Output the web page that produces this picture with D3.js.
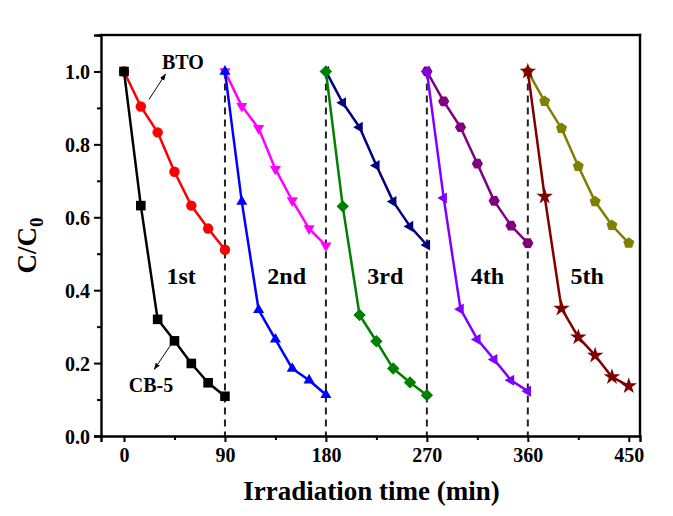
<!DOCTYPE html>
<html>
<head>
<meta charset="utf-8">
<script src="https://cdn.jsdelivr.net/npm/d3@7"></script>
<style>
  html, body { margin: 0; padding: 0; background: #ffffff; overflow: hidden; }
  svg { display: block; }
  svg text { font-family: "Liberation Serif", "Times New Roman", serif; font-weight: bold; }
</style>
</head>
<body>
<div id="chart"></div>
<script>
// Photocatalytic cycling: C/C0 versus irradiation time, five 90-min runs
const runOffsets = [0, 90, 180, 270, 360];
const stepTimes = [0, 15, 30, 45, 60, 75, 90];
const runLabels = ["1st", "2nd", "3rd", "4th", "5th"];

// BTO (slow) curves for each run
const btoRun1 = [1.0, 0.904, 0.833, 0.725, 0.632, 0.569, 0.511];
const btoRun2 = [1.0, 0.905, 0.844, 0.732, 0.646, 0.569, 0.522];
const btoRun3 = [1.0, 0.914, 0.847, 0.742, 0.643, 0.575, 0.524];
const btoRun4 = [1.0, 0.918, 0.847, 0.747, 0.645, 0.577, 0.529];
const btoRun5 = [1.0, 0.918, 0.844, 0.740, 0.643, 0.578, 0.529];

// CB-5 (fast) curves for each run
const cbRun1 = [1.0, 0.632, 0.320, 0.261, 0.199, 0.146, 0.109];
const cbRun2 = [1.0, 0.643, 0.346, 0.265, 0.185, 0.153, 0.113];
const cbRun3 = [1.0, 0.630, 0.332, 0.260, 0.185, 0.147, 0.112];
const cbRun4 = [1.0, 0.653, 0.348, 0.265, 0.210, 0.153, 0.123];
const cbRun5 = [1.0, 0.657, 0.350, 0.271, 0.221, 0.162, 0.137];

const xTicks = [0, 90, 180, 270, 360, 450];
const yTicks = [0.0, 0.2, 0.4, 0.6, 0.8, 1.0];

const seriesList = [
  { values: btoRun1, run: 0, color: "#ff0000", symbol: "circle" },
  { values: cbRun1,  run: 0, color: "#000000", symbol: "square" },
  { values: btoRun2, run: 1, color: "#ff00ff", symbol: "tridown" },
  { values: cbRun2,  run: 1, color: "#0000ff", symbol: "triup" },
  { values: btoRun3, run: 2, color: "#000080", symbol: "trileft" },
  { values: cbRun3,  run: 2, color: "#008000", symbol: "diamond" },
  { values: btoRun4, run: 3, color: "#800080", symbol: "hexagon" },
  { values: cbRun4,  run: 3, color: "#8000ff", symbol: "trileft" },
  { values: btoRun5, run: 4, color: "#808000", symbol: "pentagon" },
  { values: cbRun5,  run: 4, color: "#800000", symbol: "star" }
];

const W = 673, H = 516;
const margin = { left: 101, right: 33, top: 35, bottom: 80 };

const svg = d3.select("#chart").append("svg")
  .attr("width", W).attr("height", H)
  .attr("viewBox", `0 0 ${W} ${H}`);

const x = d3.scaleLinear().domain([-20.5, 460]).range([margin.left, W - margin.right]);
const y = d3.scaleLinear().domain([0, 1.1]).range([H - margin.bottom, margin.top]);

// marker shape generators
function polygon(n, r, rot) {
  const pts = [];
  for (let i = 0; i < n; i++) {
    const a = rot + i * 2 * Math.PI / n;
    pts.push([r * Math.cos(a), r * Math.sin(a)]);
  }
  return "M" + pts.map(p => p.join(",")).join("L") + "Z";
}
function markerPath(sym) {
  const r = 5.6;
  switch (sym) {
    case "circle":   return d3.symbol(d3.symbolCircle, Math.PI * 5.2 * 5.2)();
    case "square":   return "M-4.8,-4.8H4.8V4.8H-4.8Z";
    case "triup":    return polygon(3, r + 0.8, -Math.PI / 2);
    case "tridown":  return polygon(3, r + 0.8, Math.PI / 2);
    case "trileft":  return polygon(3, r + 0.8, Math.PI);
    case "triright": return polygon(3, r + 0.8, 0);
    case "diamond":  return polygon(4, r + 0.6, -Math.PI / 2);
    case "hexagon":  return polygon(6, r, 0);
    case "pentagon": return polygon(5, r + 0.2, -Math.PI / 2);
    case "star":     return d3.symbol(d3.symbolStar, 85)();
  }
}

const [x0, x1] = x.range();
const [yb, yt] = y.range();

// box edges drawn as thin filled bands (top and right)
const frameBands = [
  { x: x0 - 1.2, y: yt - 1.2, w: x1 - x0 + 2.4, h: 2.4 },
  { x: x1 - 1.2, y: yt - 1.2, w: 2.4, h: yb - yt + 2.4 }
];
svg.append("g").attr("class", "frame")
  .selectAll("rect").data(frameBands)
  .join("rect")
  .attr("x", d => d.x).attr("y", d => d.y)
  .attr("width", d => d.w).attr("height", d => d.h)
  .attr("fill", "#000");

const plot = svg.append("g");

// dashed separators between runs
plot.selectAll("line.sep").data(runOffsets.slice(1))
  .join("line")
  .attr("class", "sep")
  .attr("x1", d => x(d)).attr("x2", d => x(d))
  .attr("y1", y(1.0)).attr("y2", y(0))
  .attr("stroke", "#222").attr("stroke-width", 2)
  .attr("stroke-dasharray", "7,5");

const line = d3.line()
  .x(d => x(d[0]))
  .y(d => y(d[1]));

seriesList.forEach(s => {
  const pts = stepTimes.map((t, i) => [runOffsets[s.run] + t, s.values[i]]);
  const g = plot.append("g");
  g.append("path")
    .attr("d", line(pts))
    .attr("fill", "none")
    .attr("stroke", s.color)
    .attr("stroke-width", 2.5)
    .attr("stroke-linejoin", "round");
  g.selectAll("path.mk").data(pts)
    .join("path")
    .attr("class", "mk")
    .attr("d", markerPath(s.symbol))
    .attr("transform", d => `translate(${x(d[0])},${y(d[1])})`)
    .attr("fill", s.color);
});

// x axis
const xAxis = svg.append("g")
  .attr("transform", `translate(0,${yb})`)
  .call(d3.axisBottom(x).tickValues(xTicks).tickFormat(d3.format("d")).tickSize(6).tickPadding(6));
svg.append("g")
  .attr("transform", `translate(0,${yb})`)
  .call(d3.axisBottom(x).tickValues(xTicks.slice(0, -1).map(d => d + 45)).tickFormat("").tickSize(4))
  .call(g => g.select(".domain").remove());

// y axis
const yAxis = svg.append("g")
  .attr("transform", `translate(${x0},0)`)
  .call(d3.axisLeft(y).tickValues(yTicks).tickFormat(d3.format(".1f")).tickSize(7).tickPadding(4));
svg.append("g")
  .attr("transform", `translate(${x0},0)`)
  .call(d3.axisLeft(y).tickValues(yTicks.map(d => d + 0.1)).tickFormat("").tickSize(4))
  .call(g => g.select(".domain").remove());

svg.selectAll(".tick line").attr("stroke", "#000").attr("stroke-width", 2);
svg.selectAll(".domain").attr("stroke", "#000").attr("stroke-width", 2.4);
svg.selectAll(".tick text")
  .attr("font-family", "'Liberation Serif', 'Times New Roman', serif")
  .attr("font-weight", "bold")
  .attr("font-size", 20)
  .attr("fill", "#000");
xAxis.selectAll(".tick text").attr("dy", "0.72em");
yAxis.selectAll(".tick text").attr("dy", "0.35em");

// axis titles
svg.append("text")
  .attr("x", (x0 + x1) / 2 + 1)
  .attr("y", 500)
  .attr("text-anchor", "middle")
  .attr("font-size", 27)
  .text("Irradiation time (min)");

const yTitle = svg.append("text")
  .attr("transform", `translate(36,${(yt + yb) / 2 + 10}) rotate(-90)`)
  .attr("text-anchor", "middle")
  .attr("font-size", 27);
yTitle.append("tspan").text("C/C");
yTitle.append("tspan").attr("font-size", 19).attr("dy", 7).text("0");

// run labels
svg.selectAll("text.run").data(runLabels)
  .join("text")
  .attr("class", "run")
  .attr("x", (d, i) => x(runOffsets[i] + [51, 55, 53, 54, 53][i]))
  .attr("y", y(0.417))
  .attr("text-anchor", "middle")
  .attr("font-size", 24)
  .text(d => d);

// sample annotations with arrows
const defs = svg.append("defs");
defs.append("marker")
  .attr("id", "arrowhead")
  .attr("viewBox", "0 0 10 10")
  .attr("refX", 9).attr("refY", 5)
  .attr("markerWidth", 7).attr("markerHeight", 7)
  .attr("orient", "auto")
  .append("path").attr("d", "M0,1.5L10,5L0,8.5Z").attr("fill", "#000");

const notes = [
  { text: "BTO", tx: 52.5, ty: 1.007, from: [22.3, 0.923], to: [37, 0.993] },
  { text: "CB-5", tx: 24, ty: 0.121, from: [43.5, 0.258], to: [27, 0.183] }
];
notes.forEach(n => {
  svg.append("line")
    .attr("x1", x(n.from[0])).attr("y1", y(n.from[1]))
    .attr("x2", x(n.to[0])).attr("y2", y(n.to[1]))
    .attr("stroke", "#000").attr("stroke-width", 1)
    .attr("marker-end", "url(#arrowhead)");
  svg.append("text")
    .attr("x", x(n.tx)).attr("y", y(n.ty))
    .attr("text-anchor", "middle")
    .attr("font-size", 20)
    .text(n.text);
});
</script>
</body>
</html>
